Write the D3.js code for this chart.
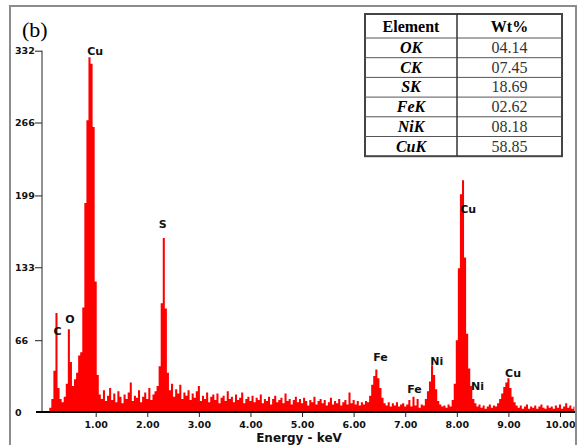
<!DOCTYPE html>
<html>
<head>
<meta charset="utf-8">
<script src="https://cdn.jsdelivr.net/npm/d3@7"></script>
<style>
  body { margin: 0; background: #fff; }
  svg { display: block; }
</style>
</head>
<body>
<div id="chart"></div>
<script>
// spectrum counts, one channel every 0.04 keV starting at 0.00
var channelStep = 0.04;
var counts = [
  0, 0, 0, 4, 12, 38, 91, 22, 12, 9,
  14, 26, 76, 46, 24, 30, 36, 52, 55, 96,
  192, 268, 326, 320, 262, 120, 34, 16, 12, 20,
  10, 15, 22, 11, 17, 9, 19, 14, 8, 16,
  12, 18, 27, 10, 15, 13, 20, 9, 14, 18,
  12, 22, 11, 16, 19, 24, 42, 100, 160, 95,
  36, 20, 26, 14, 21, 17, 25, 12, 18, 15,
  20, 11, 17, 13, 19, 24, 10, 15, 12, 18,
  9, 14, 16, 11, 17, 8, 13, 15, 10, 19,
  12, 14, 9, 16, 11, 13, 18, 8, 12, 14,
  10, 15, 9, 13, 11, 16, 8, 12, 10, 14,
  7, 12, 15, 9, 11, 13, 8, 17, 10, 12,
  7, 11, 14, 9, 12, 8, 13, 10, 6, 11,
  9, 14, 7, 10, 12, 8, 11, 6, 9, 13,
  7, 10, 8, 12, 6, 9, 11, 7, 18, 8,
  11, 7, 10, 6, 9, 7, 10, 9, 15, 25,
  33, 39, 31, 22, 13, 8, 6, 9, 5, 8,
  6, 9, 5, 7, 8, 5, 7, 11, 5, 14,
  6, 12, 4, 7, 6, 12, 19, 28, 43, 34,
  21, 10, 7, 5, 6, 4, 7, 5, 11, 26,
  66, 132, 200, 213, 142, 72, 40, 24, 12, 8,
  5, 7, 4, 6, 3, 5, 7, 4, 6, 5,
  8, 12, 17, 23, 27, 31, 22, 14, 9, 6,
  4, 6, 3, 5, 7, 3, 5, 4, 6, 3,
  5, 7, 4, 3, 6, 4, 5, 3, 6, 4,
  7, 3, 5, 8, 4, 6, 3, 5
];

// axis ticks
var yTicks = [0, 66, 133, 199, 266, 332];
var xTicks = [1, 2, 3, 4, 5, 6, 7, 8, 9, 10];

// peak labels: name, energy (keV), label height (counts)
var peakNames = ["Cu", "C", "O", "S", "Fe", "Fe", "Ni", "Cu", "Ni", "Cu"];
var peakEnergy = [0.99, 0.26, 0.50, 2.30, 6.52, 7.18, 7.61, 8.22, 8.40, 9.09];
var peakLabelAt = [328, 71, 81.5, 169, 47, 17, 43, 182.6, 20, 32.4];

// composition table
var tableElements = ["OK", "CK", "SK", "FeK", "NiK", "CuK"];
var tableWt = ["04.14", "07.45", "18.69", "02.62", "08.18", "58.85"];

var W = 581, H = 445;

var svg = d3.select("#chart")
  .append("svg")
  .attr("width", W)
  .attr("height", H);

var x = d3.scaleLinear().domain([0, 10]).range([44.1, 560]);
var y = d3.scaleLinear().domain([0, 332]).range([412, 50.7]);

svg.append("defs").append("clipPath")
  .attr("id", "frameClip")
  .append("rect")
  .attr("x", 10).attr("y", 6)
  .attr("width", 565).attr("height", H);

var plot = svg.append("g").attr("clip-path", "url(#frameClip)");

// spectrum
var spectrum = counts.map(function (c, i) { return { e: i * channelStep, c: c }; });
plot.append("path")
  .datum(spectrum)
  .attr("fill", "#ff0000")
  .attr("stroke", "none")
  .attr("d", d3.area()
    .curve(d3.curveStep)
    .x(function (d) { return x(d.e); })
    .y0(y(0))
    .y1(function (d) { return y(d.c); })
  );

// y axis
var yAxis = plot.append("g")
  .attr("transform", "translate(42,0)")
  .call(d3.axisLeft(y).tickValues(yTicks).tickSize(7).tickPadding(0));
yAxis.select(".domain")
  .attr("d", "M0," + y(332) + "V" + y(0))
  .attr("stroke", "#222");
yAxis.selectAll(".tick line").attr("stroke", "#222");
yAxis.selectAll(".tick").filter(function (d) { return d === 0; }).select("line").remove();
yAxis.selectAll("text")
  .attr("x", -27)
  .attr("text-anchor", "start")
  .attr("fill", "#111")
  .style("font-family", "'DejaVu Sans', sans-serif")
  .style("font-weight", "bold")
  .style("font-size", "9.5px");

// x axis
var xAxis = plot.append("g")
  .attr("transform", "translate(0," + y(0) + ")")
  .call(d3.axisBottom(x).tickValues(xTicks).tickFormat(d3.format(".2f")).tickSize(5).tickPadding(4));
xAxis.select(".domain").remove();
xAxis.append("line")
  .attr("x1", 36).attr("x2", 577)
  .attr("y1", 0).attr("y2", 0)
  .attr("stroke", "#000")
  .attr("stroke-width", 2);
xAxis.selectAll(".tick line").attr("stroke", "#222");
xAxis.selectAll("text")
  .attr("fill", "#111")
  .style("font-family", "'DejaVu Sans', sans-serif")
  .style("font-weight", "bold")
  .style("font-size", "9.5px");

plot.append("text")
  .attr("x", 299)
  .attr("y", 441.5)
  .attr("text-anchor", "middle")
  .attr("fill", "#111")
  .style("font-family", "'DejaVu Sans', sans-serif")
  .style("font-weight", "bold")
  .style("font-size", "12px")
  .text("Energy - keV");

// peak labels
plot.selectAll(".peak")
  .data(peakNames)
  .enter()
  .append("text")
  .attr("class", "peak")
  .attr("x", function (d, i) { return x(peakEnergy[i]); })
  .attr("y", function (d, i) { return y(peakLabelAt[i]); })
  .attr("text-anchor", "middle")
  .attr("fill", "#111")
  .style("font-family", "'DejaVu Sans', sans-serif")
  .style("font-weight", "bold")
  .style("font-size", "11px")
  .text(function (d) { return d; });

// panel letter
svg.append("text")
  .attr("x", 22)
  .attr("y", 37)
  .style("font-family", "'Liberation Serif', 'Times New Roman', serif")
  .style("font-size", "22px")
  .attr("fill", "#000")
  .text("(b)");

// table
var tx0 = 365, tx1 = 457, tx2 = 562;
var ty0 = 14, headH = 24, rowH = 19.7;
var table = svg.append("g");

table.append("rect")
  .attr("x", tx0).attr("y", ty0)
  .attr("width", tx2 - tx0)
  .attr("height", headH + rowH * tableElements.length)
  .attr("fill", "#fff")
  .attr("stroke", "#444")
  .attr("stroke-width", 2);

table.selectAll(".rowline")
  .data(tableElements)
  .enter()
  .append("line")
  .attr("x1", tx0).attr("x2", tx2)
  .attr("y1", function (d, i) { return ty0 + headH + i * rowH; })
  .attr("y2", function (d, i) { return ty0 + headH + i * rowH; })
  .attr("stroke", "#555")
  .attr("stroke-width", 1);

table.append("line")
  .attr("x1", tx1).attr("x2", tx1)
  .attr("y1", ty0).attr("y2", ty0 + headH + rowH * tableElements.length)
  .attr("stroke", "#333")
  .attr("stroke-width", 1.5);

var serif = "'Liberation Serif', 'Times New Roman', serif";
table.append("text")
  .attr("x", (tx0 + tx1) / 2).attr("y", ty0 + 18)
  .attr("text-anchor", "middle")
  .style("font-family", serif).style("font-weight", "bold").style("font-size", "16px")
  .text("Element");
table.append("text")
  .attr("x", (tx1 + tx2) / 2).attr("y", ty0 + 18)
  .attr("text-anchor", "middle")
  .style("font-family", serif).style("font-weight", "bold").style("font-size", "16px")
  .text("Wt%");

table.selectAll(".elname")
  .data(tableElements)
  .enter()
  .append("text")
  .attr("x", (tx0 + tx1) / 2)
  .attr("y", function (d, i) { return ty0 + headH + i * rowH + 15; })
  .attr("text-anchor", "middle")
  .style("font-family", serif).style("font-weight", "bold").style("font-style", "italic")
  .style("font-size", "16px")
  .text(function (d) { return d; });

table.selectAll(".wt")
  .data(tableWt)
  .enter()
  .append("text")
  .attr("x", (tx1 + tx2) / 2)
  .attr("y", function (d, i) { return ty0 + headH + i * rowH + 15; })
  .attr("text-anchor", "middle")
  .attr("fill", "#333")
  .style("font-family", serif).style("font-size", "16px")
  .text(function (d) { return d; });

// outer frame
svg.append("path")
  .attr("d", "M10," + (H + 2) + "V6H576V" + (H + 2))
  .attr("fill", "none")
  .attr("stroke", "#8c8c8c")
  .attr("stroke-width", 2);
</script>
</body>
</html>
